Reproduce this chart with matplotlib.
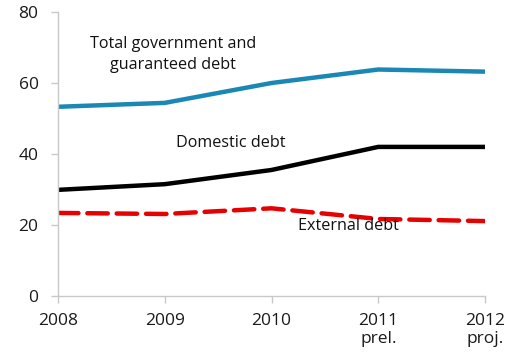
import matplotlib
matplotlib.use("Agg")
import matplotlib.pyplot as plt

years = [2008, 2009, 2010, 2011, 2012]
tick_labels = ["2008", "2009", "2010", "2011\nprel.", "2012\nproj."]
total = [53.3, 54.4, 60.0, 63.8, 63.2]
domestic = [29.9, 31.5, 35.5, 42.0, 42.0]
external = [23.4, 23.1, 24.7, 21.7, 21.1]

plt.rcParams['font.family'] = ['Open Sans', 'DejaVu Sans']

fig = plt.figure(figsize=(5.07, 3.58), dpi=100)
ax = fig.add_axes([58/507, (358-296)/358, (485-58)/507, (296-12)/358])

ax.plot(years, total, color="#1a87b5", lw=3.2, solid_capstyle="butt", solid_joinstyle="round")
ax.plot(years, domestic, color="black", lw=3.2, solid_capstyle="butt", solid_joinstyle="round")
ax.plot(years, external, color="#e60000", lw=3.2, dashes=(4.6, 2.0), dash_capstyle="round")

ax.set_xlim(2008, 2012)
ax.set_ylim(0, 80)
ax.set_yticks([0, 20, 40, 60, 80])
ax.set_xticks(years)
ax.set_xticklabels(tick_labels)

for s in ["top", "right"]:
    ax.spines[s].set_visible(False)
for s in ["left", "bottom"]:
    ax.spines[s].set_color("#c8c8c8")
    ax.spines[s].set_linewidth(1.0)
ax.tick_params(axis="both", colors="#c8c8c8", labelcolor="#1a1a1a", labelsize=12.5, length=5, width=1.0)
ax.tick_params(axis="x", pad=7)
ax.tick_params(axis="y", pad=9)
ax.spines["bottom"].set_bounds(2008, 2012)

ax.text(2009.08, 68.0, "Total government and\nguaranteed debt", ha="center", va="center",
        fontsize=11.6, color="#111111", linespacing=1.4)
ax.text(2009.62, 43.2, "Domestic debt", ha="center", va="center", fontsize=11.6, color="#111111")
ax.text(2010.72, 19.8, "External debt", ha="center", va="center", fontsize=11.6, color="#111111")

fig.savefig("out.png", dpi=100)
